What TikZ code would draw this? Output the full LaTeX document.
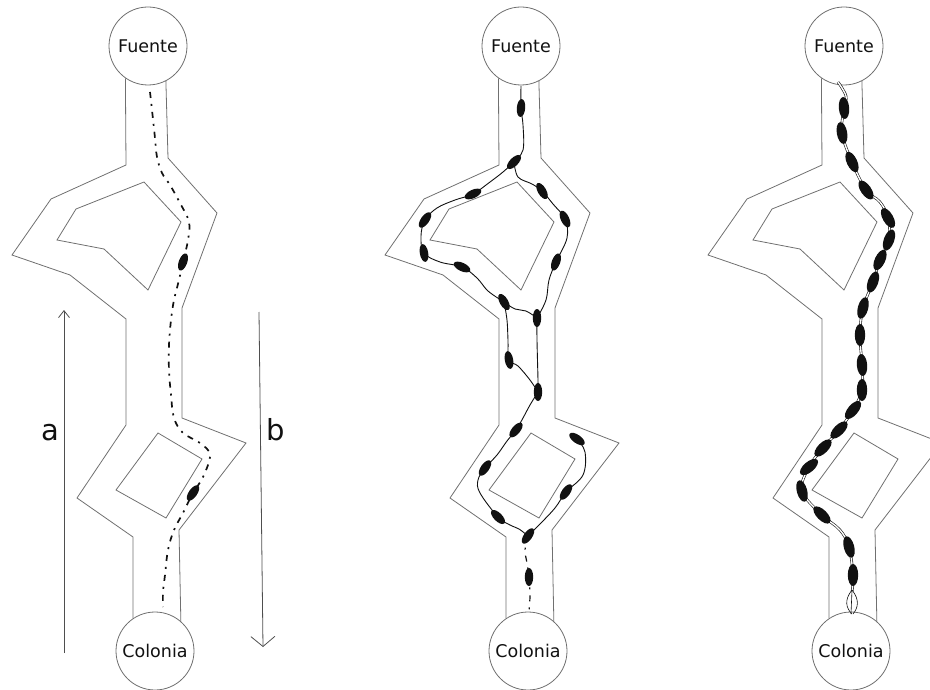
\documentclass[tikz,border=0pt]{standalone}
\usepackage{fontspec}
\setmainfont{DejaVu Sans}
\usetikzlibrary{arrows.meta,shapes.geometric}
\definecolor{wall}{HTML}{707070}
\definecolor{ink}{HTML}{111111}
% a single ant: centre x, centre y, tilt of the body from vertical (positive leans right)
\newcommand\antdot[3]{\fill[ink,rotate around={-#3:(#1,#2)}] (#1,#2) ellipse (4.2pt and 9pt);}
\newcommand\antbig[3]{\fill[ink,rotate around={-#3:(#1,#2)}] (#1,#2) ellipse (5.2pt and 11pt);}
\begin{document}
\begin{tikzpicture}[x=1pt,y=-1pt,
  wall/.style={draw=wall,line width=0.8pt,line join=miter},
  place/.style={circle,draw=wall,line width=0.8pt,fill=white,minimum size=78pt,inner sep=0pt,
                text=ink,font=\fontsize{17.5}{20}\selectfont},
  trail/.style={ink,line width=1.7pt,dash pattern=on 6pt off 6pt on 2pt off 6pt},
  chain/.style={ink,line width=0.9pt},
  strand/.style={ink,line width=0.6pt,double=white,double distance=1.4pt},
  axis/.style={draw=wall!70!black,line width=0.8pt},
  tag/.style={text=ink,font=\fontsize{29}{34}\selectfont,inner sep=0pt}]
\useasboundingbox (0,0) rectangle (930,690);
\clip (0,0) rectangle (930,690);

% three copies of the channel network between the source and the colony
\foreach \dx/\n in {0/1,373/2,696/3}{
  \begin{scope}[xshift=\dx pt]
    \node[place] (f\n) at (148,46) {Fuente};
    \node[place] (c\n) at (155,651) {Colonia};
    \draw[wall] (f\n.235) -- (126,165) -- (51,199) -- (12,255) -- (70,275) -- (126,319)
      -- (126,425) -- (77,498) -- (133,537) -- (c\n.124);
    \draw[wall] (f\n.297) -- (168,158) -- (217,213) -- (182,308) -- (182,418)
      -- (246,443) -- (179,530) -- (c\n.49);
    \draw[wall] (144,182) -- (181,222) -- (148,290) -- (104,249) -- (57,240) -- (76,209) -- cycle;
    \draw[wall] (158,433) -- (202,459) -- (166,518) -- (116,490) -- cycle;
  \end{scope}
}

% time arrows
\coordinate (a0) at (64,653);
\coordinate (a1) at (64,310);
\coordinate (b0) at (259,312);
\coordinate (b1) at (263,647);
\draw[axis,-{Straight Barb[length=7pt,width=11pt]}] (a0) -- (a1);
\draw[axis,-{Straight Barb[length=10pt,width=24pt]}] (b0) -- (b1);
\node[tag] (la) at (50,433) {a};
\node[tag] (lb) at (276,430) {b};

% first stage: a faint pheromone trail and two scouts
\draw[trail] plot[smooth,tension=0.6] coordinates {(150,92) (152,110) (155,138) (157,157)
  (162,173) (170,185) (180,203) (189,222) (188,240) (183,262) (179,280) (174,300) (171,320)
  (169,345) (169,370) (171,395) (174,418) (183,433) (200,443) (210,455) (203,477) (193,493)
  (183,513) (174,530) (168,550) (165,575) (163,592) (163,607)};
\antdot{183}{262}{20}
\antdot{193}{493}{35}

% second stage: ants spread over both branches
\draw[chain] plot[smooth,tension=0.6] coordinates {(521,86) (521,108) (523,125) (523,150) (514,162)};
\draw[chain] plot[smooth,tension=0.6] coordinates {(514,162) (503,172) (490,182) (473,194)
  (455,200) (437,208) (425,220) (421,236) (424,253) (440,262) (462,267) (477,278) (488,291) (504,302)};
\draw[chain] plot[smooth,tension=0.6] coordinates {(514,162) (518,177) (532,184) (542,191)
  (553,204) (565,219) (567,238) (556,262) (549,280) (546,300) (537,318)};
\draw[chain] plot[smooth,tension=0.6] coordinates {(504,302) (515,309) (526,311) (537,318)};
\draw[chain] plot[smooth,tension=0.6] coordinates {(504,302) (507,320) (508,340) (509,360)
  (518,366) (530,380) (538,392)};
\draw[chain] plot[smooth,tension=0.6] coordinates {(537,318) (537,340) (538,380) (538,392)};
\draw[chain] plot[smooth,tension=0.6] coordinates {(538,392) (530,405) (523,418) (516,430)
  (507,441) (497,455) (485,468) (478,480) (480,493) (498,517) (510,525) (519,529) (528,536)};
\draw[chain] plot[smooth,tension=0.6] coordinates {(577,439) (585,452) (583,475) (566,492)
  (555,508) (540,524) (528,536)};
\draw[trail,line width=1.2pt] plot[smooth,tension=0.6] coordinates {(528,536) (525,550)
  (527,563) (529,577) (530,595) (529,612)};
\antdot{521}{108}{5}
\antdot{514}{162}{45}
\antdot{473}{194}{65}
\antdot{425}{220}{35}
\antdot{424}{253}{-10}
\antdot{462}{267}{-65}
\antdot{504}{302}{-30}
\antdot{509}{360}{-10}
\antdot{537}{318}{0}
\antdot{556}{262}{20}
\antdot{538}{392}{0}
\antdot{542}{191}{-30}
\antdot{565}{219}{-25}
\antdot{516}{430}{40}
\antdot{485}{468}{35}
\antdot{498}{517}{-45}
\antdot{528}{536}{35}
\antdot{577}{439}{-55}
\antdot{566}{492}{35}
\antdot{529}{577}{0}

% third stage: a single dense column on the shortest route
\draw[strand] plot[smooth,tension=0.6] coordinates {(838,82) (846,96) (844,108) (842,133)
  (852,162) (866,190) (880,202) (888,218) (889,240) (880,260) (873,282) (863,308) (860,335)
  (862,365) (862,390) (853,410) (839,430) (823,448) (809,467) (802,491) (822,515) (840,530)
  (849,547) (853,575) (852,592)};
\draw[ink,line width=0.6pt] (852,590) .. controls (844,600) and (846,608) .. (852,614);
\draw[ink,line width=0.6pt] (852,590) .. controls (860,600) and (858,608) .. (853,614);
\draw[ink,line width=0.6pt] (852,590) -- (851,614);
\antbig{844}{108}{-5}
\antbig{842}{133}{-10}
\antbig{852}{162}{-25}
\antbig{866}{190}{-35}
\antbig{888}{218}{-30}
\antbig{889}{240}{20}
\antbig{880}{260}{25}
\antbig{873}{282}{20}
\antbig{863}{308}{15}
\antbig{860}{335}{0}
\antbig{862}{365}{-5}
\antbig{862}{390}{0}
\antbig{853}{410}{40}
\antbig{839}{430}{45}
\antbig{823}{448}{45}
\antbig{809}{467}{50}
\antbig{802}{491}{-15}
\antbig{822}{515}{-45}
\antbig{849}{547}{-15}
\antbig{853}{575}{0}
\end{tikzpicture}
\end{document}
